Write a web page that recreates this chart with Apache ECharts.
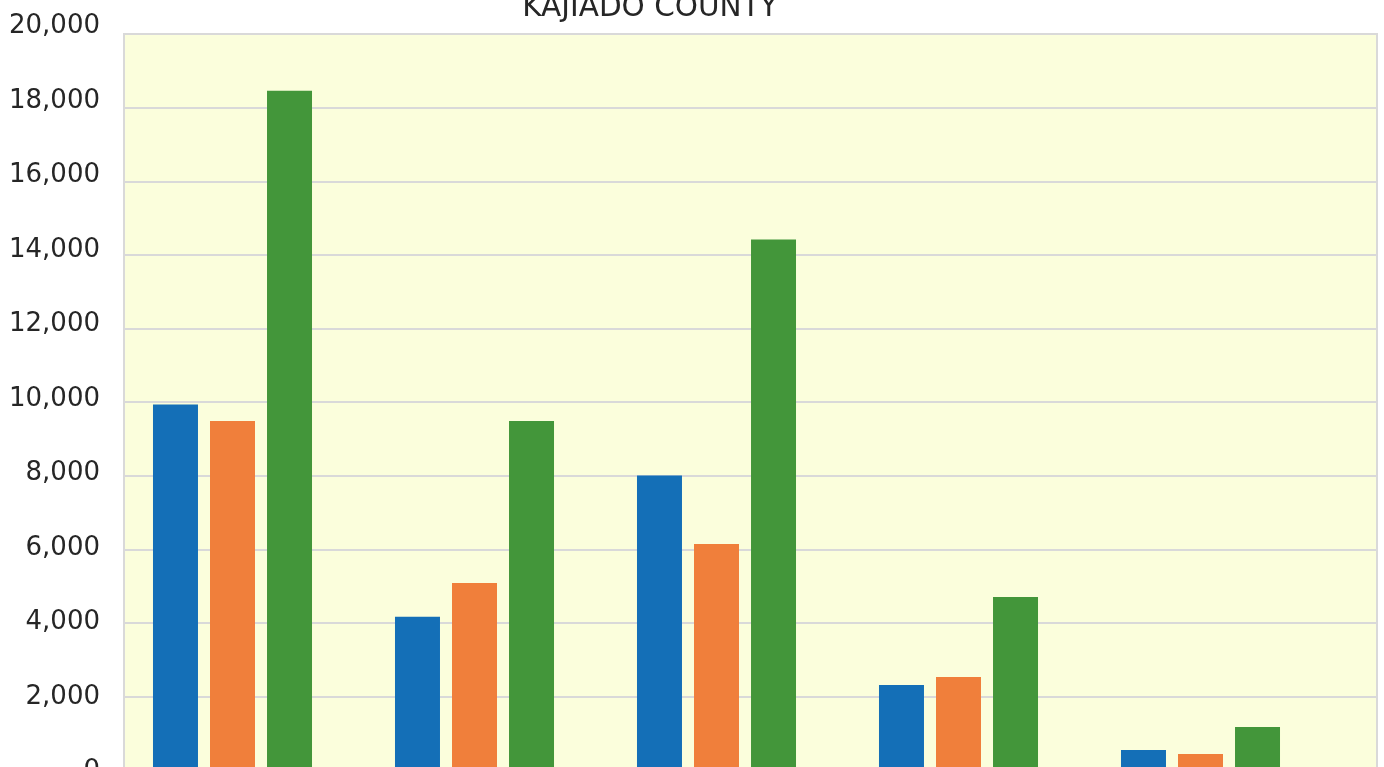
<!DOCTYPE html>
<html>
<head>
<meta charset="utf-8">
<script src="https://cdn.jsdelivr.net/npm/echarts@6/dist/echarts.min.js"></script>
<style>
  html, body { margin: 0; padding: 0; background: #fff; }
  #chart { width: 1384px; height: 767px; }
</style>
</head>
<body>
<div id="chart"></div>
<script>
const title = 'KAJIADO COUNTY';
const categories = ['Group 1', 'Group 2', 'Group 3', 'Group 4', 'Group 5'];
const seriesNames = ['Series 1', 'Series 2', 'Series 3'];
const blueValues = [9940, 4175, 8010, 2320, 553];
const orangeValues = [9490, 5090, 6150, 2535, 444];
const greenValues = [18460, 9490, 14420, 4710, 1177];
const yMin = 0;
const yMax = 20000;
const yStep = 2000;

const colors = ['#146fb7', '#f07f3b', '#43963a'];
const font = 'DejaVu Sans';

const chart = echarts.init(document.getElementById('chart'));

const hiddenAxis = { show: false };

chart.setOption({
  animation: false,
  grid: [
    // plot background, border and gridlines
    { left: 124, top: 34, width: 1253, height: 736.4, show: true, outerBoundsMode: 'none',
      backgroundColor: '#fbfedc', borderColor: '#d9d9d9', borderWidth: 2 },
    // bars
    { left: 111.5, top: 34, width: 1210, height: 736.4, outerBoundsMode: 'none' },
    // tick labels
    { left: 124, top: 26.5, width: 1253, height: 745, outerBoundsMode: 'none' }
  ],
  graphic: [{
    type: 'text',
    x: 650,
    y: 8,
    style: {
      text: title,
      font: `29.5px "${font}"`,
      fill: '#262626',
      align: 'center',
      verticalAlign: 'middle'
    }
  }],
  xAxis: [
    { gridIndex: 0, type: 'category', data: categories, ...hiddenAxis },
    { gridIndex: 1, type: 'category', data: categories, ...hiddenAxis },
    { gridIndex: 2, type: 'category', data: categories, ...hiddenAxis }
  ],
  yAxis: [
    { gridIndex: 0, type: 'value', min: yMin, max: yMax, interval: yStep,
      axisLine: { show: false }, axisTick: { show: false }, axisLabel: { show: false },
      splitLine: { lineStyle: { color: '#d9d9d9', width: 2 } } },
    { gridIndex: 1, type: 'value', min: yMin, max: yMax, interval: yStep, show: false },
    { gridIndex: 2, type: 'value', min: yMin, max: yMax, interval: yStep,
      axisLine: { show: false }, axisTick: { show: false }, splitLine: { show: false },
      axisLabel: {
        margin: 24, fontFamily: font, fontSize: 26, color: '#262626',
        formatter: v => v.toLocaleString('en-US')
      } }
  ],
  series: [blueValues, orangeValues, greenValues].map((vals, i) => ({
    name: seriesNames[i],
    type: 'bar',
    xAxisIndex: 1,
    yAxisIndex: 1,
    data: vals,
    barWidth: 45,
    barGap: '26.7%',
    itemStyle: { color: colors[i] }
  }))
});
</script>
</body>
</html>
